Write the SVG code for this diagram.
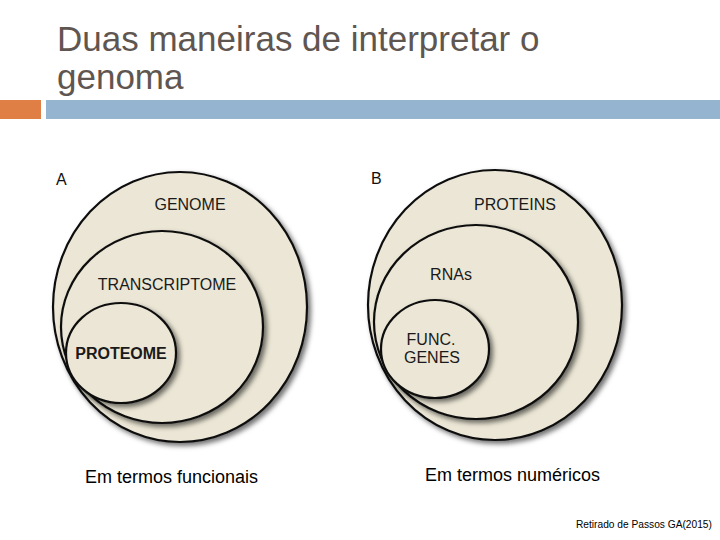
<svg xmlns="http://www.w3.org/2000/svg" width="720" height="540" viewBox="0 0 720 540">
<defs>
<filter id="sh" x="-20%" y="-20%" width="140%" height="140%">
<feGaussianBlur in="SourceAlpha" stdDeviation="2.5"/>
<feOffset dx="3" dy="3" result="b"/>
<feFlood flood-color="#000" flood-opacity="0.55"/>
<feComposite in2="b" operator="in"/>
<feMerge><feMergeNode/><feMergeNode in="SourceGraphic"/></feMerge>
</filter>
</defs>
<style>
.title{font-family:"Liberation Sans",Arial,sans-serif;font-size:35px;fill:#5f5651}
.c{fill:#ebe6d5;stroke:#111;stroke-width:2.2;filter:url(#sh)}
.lbl{font-family:"Liberation Sans",Arial,sans-serif;font-size:16px;fill:#1a1a1a}
.b{font-weight:bold}
.cap{font-family:"Liberation Sans",Arial,sans-serif;font-size:18px;fill:#000}
.pl{font-family:"Liberation Sans",Arial,sans-serif;font-size:16px;fill:#111}
</style>
<rect width="720" height="540" fill="#fff"/>
<g id="title">
<text class="title" x="57" y="51">Duas maneiras de interpretar o</text>
<text class="title" x="57" y="89">genoma</text>
</g>
<g id="bar">
<rect x="0" y="100" width="41" height="19" fill="#e07f45"/>
<rect x="46" y="100" width="674" height="19" fill="#95b4d0"/>
</g>
<g id="panelA">
<text class="pl" x="56" y="185">A</text>
<g id="genome"><ellipse class="c" cx="180" cy="307" rx="127" ry="135"/><text class="lbl" x="190" y="210" text-anchor="middle">GENOME</text></g>
<g id="transcriptome"><ellipse class="c" cx="162" cy="327" rx="101" ry="96"/><text class="lbl" x="167" y="290" text-anchor="middle">TRANSCRIPTOME</text></g>
<g id="proteome"><ellipse class="c" cx="121" cy="353" rx="55" ry="50"/><text class="lbl b" x="121" y="359" text-anchor="middle">PROTEOME</text></g>
</g>
<g id="panelB">
<text class="pl" x="371" y="184">B</text>
<g id="proteins"><ellipse class="c" cx="495" cy="305" rx="127" ry="135"/><text class="lbl" x="515" y="210" text-anchor="middle">PROTEINS</text></g>
<g id="rnas"><ellipse class="c" cx="476" cy="322" rx="102" ry="97"/><text class="lbl" x="451" y="280" text-anchor="middle">RNAs</text></g>
<g id="funcgenes"><ellipse class="c" cx="435" cy="349" rx="54" ry="49"/><text class="lbl" x="431" y="345" text-anchor="middle">FUNC.</text><text class="lbl" x="432" y="363" text-anchor="middle">GENES</text></g>
</g>
<g id="connectors"/>
<text class="cap" x="85" y="483">Em termos funcionais</text>
<text class="cap" x="425" y="481">Em termos numéricos</text>
<text x="576" y="528" font-family="Liberation Sans, Arial, sans-serif" font-size="10.2" fill="#000">Retirado de Passos GA(2015)</text>
</svg>
